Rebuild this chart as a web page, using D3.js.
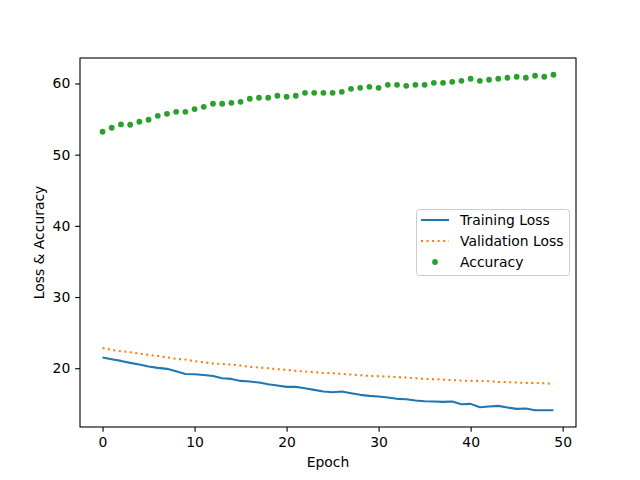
<!DOCTYPE html>
<html>
<head>
<meta charset="utf-8">
<script src="https://cdn.jsdelivr.net/npm/d3@7"></script>
<style>
  body { margin: 0; background: #fff; }
  svg text { font-family: "DejaVu Sans", sans-serif; fill: #000; }
</style>
</head>
<body>
<div class="chart"></div>
<script>
// values
var epochs = d3.range(0, 50);

var trainLoss = [21.5, 21.26, 21.03, 20.75, 20.51, 20.23, 20.05, 19.91, 19.58, 19.2,
    19.16, 19.06, 18.92, 18.6, 18.5, 18.22, 18.13, 17.99, 17.75, 17.57,
    17.38, 17.38, 17.19, 16.96, 16.73, 16.63, 16.73, 16.49, 16.26, 16.12,
    16.02, 15.88, 15.7, 15.65, 15.46, 15.37, 15.32, 15.27, 15.32, 14.95,
    14.99, 14.53, 14.62, 14.71, 14.48, 14.29, 14.34, 14.1, 14.1, 14.1];

var valLoss = [22.85, 22.57, 22.39, 22.25, 22.06, 21.87, 21.73, 21.54, 21.31, 21.22,
    20.98, 20.84, 20.66, 20.61, 20.51, 20.37, 20.19, 20.09, 20.0, 19.86,
    19.77, 19.63, 19.53, 19.44, 19.34, 19.3, 19.2, 19.11, 19.02, 18.92,
    18.88, 18.83, 18.74, 18.69, 18.6, 18.5, 18.46, 18.41, 18.32, 18.27,
    18.22, 18.22, 18.18, 18.08, 18.04, 17.99, 17.94, 17.94, 17.9, 17.8];

var accuracy = [53.22, 53.78, 54.25, 54.2, 54.62, 54.9, 55.46, 55.74, 56.02, 56.02,
    56.4, 56.72, 57.15, 57.15, 57.28, 57.42, 57.85, 57.99, 57.99, 58.27,
    58.13, 58.27, 58.69, 58.69, 58.69, 58.69, 58.83, 59.25, 59.39, 59.53,
    59.39, 59.81, 59.81, 59.67, 59.81, 59.81, 60.09, 60.09, 60.23, 60.37,
    60.66, 60.37, 60.52, 60.66, 60.8, 60.94, 60.8, 61.08, 60.94, 61.22];

var xTicks = [0, 10, 20, 30, 40, 50];
var yTicks = [20, 30, 40, 50, 60];
var seriesNames = ["Training Loss", "Validation Loss", "Accuracy"];
var colors = ["#1f77b4", "#ff7f0e", "#2ca02c"];

var width = 640, height = 480;
var mLeft = 80, mRight = 576, mTop = 58, mBottom = 427;

var svg = d3.select(".chart").append("svg")
    .attr("width", width)
    .attr("height", height);

// matplotlib style 5% margins
var allY = trainLoss.concat(valLoss, accuracy);
var yMin = d3.min(allY), yMax = d3.max(allY);
var yPad = (yMax - yMin) * 0.05;
var xPad = (d3.max(epochs) - d3.min(epochs)) * 0.05;

var x = d3.scaleLinear()
    .domain([d3.min(epochs) - xPad, d3.max(epochs) + xPad])
    .range([mLeft, mRight]);
var y = d3.scaleLinear()
    .domain([yMin - yPad, yMax + yPad])
    .range([mBottom, mTop]);

var line = function(vals) {
    return d3.line()
        .x(function(d, i) { return x(epochs[i]); })
        .y(function(d) { return y(d); })(vals);
};

svg.append("path")
    .attr("d", line(trainLoss))
    .attr("fill", "none")
    .attr("stroke", colors[0])
    .attr("stroke-width", 2.08)
    .attr("stroke-linejoin", "round");

svg.append("path")
    .attr("d", line(valLoss))
    .attr("fill", "none")
    .attr("stroke", colors[1])
    .attr("stroke-width", 2.08)
    .attr("stroke-dasharray", "2.08,3.44");

svg.append("g").selectAll("circle").data(accuracy).enter().append("circle")
    .attr("cx", function(d, i) { return x(epochs[i]); })
    .attr("cy", function(d) { return y(d); })
    .attr("r", 2.9)
    .attr("fill", colors[2]);

// axes
var xAxis = svg.append("g")
    .attr("transform", "translate(0," + mBottom + ")")
    .call(d3.axisBottom(x).tickValues(xTicks).tickSize(4.86).tickPadding(4.86));
var yAxis = svg.append("g")
    .attr("transform", "translate(" + mLeft + ",0)")
    .call(d3.axisLeft(y).tickValues(yTicks).tickSize(4.86).tickPadding(4.86));

[xAxis, yAxis].forEach(function(a) {
    a.select(".domain").remove();
    a.selectAll("line").attr("stroke", "#000").attr("stroke-width", 1.1);
    a.selectAll("text").attr("font-size", "13.9px").attr("font-family", "DejaVu Sans");
});

svg.append("rect")
    .attr("x", mLeft).attr("y", mTop)
    .attr("width", mRight - mLeft).attr("height", mBottom - mTop)
    .attr("fill", "none")
    .attr("stroke", "#000")
    .attr("stroke-width", 1.1);

svg.append("text")
    .attr("x", (mLeft + mRight) / 2)
    .attr("y", 467)
    .attr("text-anchor", "middle")
    .attr("font-size", "13.9px")
    .text("Epoch");

svg.append("text")
    .attr("transform", "translate(44," + ((mTop + mBottom) / 2) + ") rotate(-90)")
    .attr("text-anchor", "middle")
    .attr("font-size", "13.9px")
    .text("Loss & Accuracy");

// legend
var lg = svg.append("g").attr("transform", "translate(416,209)");
lg.append("rect")
    .attr("x", 0.5).attr("y", 0.5)
    .attr("width", 153).attr("height", 66)
    .attr("rx", 3)
    .attr("fill", "#fff").attr("fill-opacity", 0.8)
    .attr("stroke", "#ccc").attr("stroke-width", 1);

seriesNames.forEach(function(name, i) {
    var cy = 11 + i * 21;
    if (i == 2) {
        lg.append("circle").attr("cx", 19).attr("cy", cy).attr("r", 2.9).attr("fill", colors[2]);
    } else {
        var l = lg.append("line")
            .attr("x1", 5).attr("x2", 33).attr("y1", cy).attr("y2", cy)
            .attr("stroke", colors[i]).attr("stroke-width", 2.08);
        if (i == 1) l.attr("stroke-dasharray", "2.08,3.44");
    }
    lg.append("text")
        .attr("x", 44).attr("y", cy + 5)
        .attr("font-size", "13.9px")
        .text(name);
});
</script>
</body>
</html>
